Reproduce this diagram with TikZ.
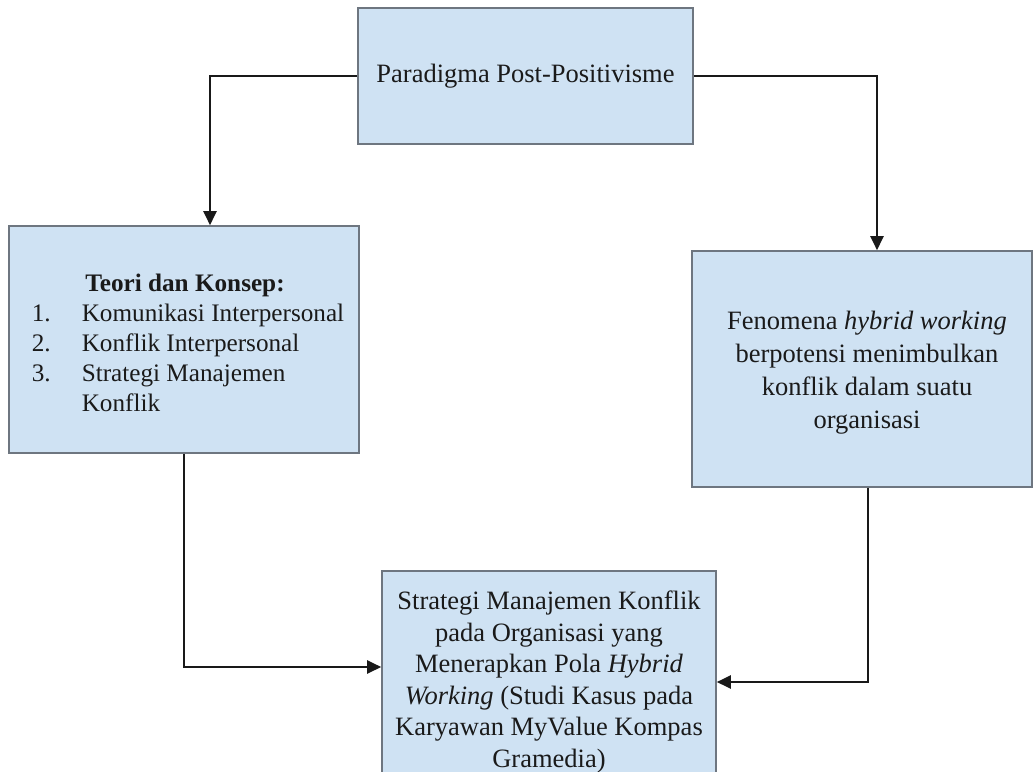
\documentclass[tikz,border=0pt]{standalone}
\usepackage{fontspec}
\setmainfont{Liberation Serif}
\usetikzlibrary{arrows.meta}
\definecolor{boxfill}{HTML}{CFE2F3}
\definecolor{boxline}{HTML}{6E7680}
\definecolor{txt}{HTML}{1A1A1A}
\begin{document}
\begin{tikzpicture}[x=1pt,y=-1pt,
  box/.style={draw=boxline, fill=boxfill, line width=1.6pt, inner sep=0pt, align=center, text=txt, font=\fontsize{26.5}{31.5}\selectfont},
  label/.style={inner sep=0pt, align=center, text=txt},
  arr/.style={draw=black!90, line width=2.3pt, -{Triangle[length=14pt,width=13pt]}}]
\useasboundingbox (0,0) rectangle (1033,771);
\clip (0,0) rectangle (1033,771);
\node[box, minimum width=335pt, minimum height=136pt] (top) at (525.5,76) {Paradigma Post-Positivisme};
\node[box, minimum width=350pt, minimum height=227pt] (left) at (184,339.5) {};
\node[label, font=\fontsize{25.2}{30}\selectfont] (lefttext) at (188,345) {%
  \begin{tabular}{@{}l@{}l@{}}
  \multicolumn{2}{c}{\hspace{-6pt}\textbf{Teori dan Konsep:}}\\
  \makebox[50pt][l]{1.} & Komunikasi Interpersonal\\
  \makebox[50pt][l]{2.} & Konflik Interpersonal\\
  \makebox[50pt][l]{3.} & Strategi Manajemen\\
   & Konflik
  \end{tabular}};
\node[box, minimum width=340pt, minimum height=236pt] (right) at (862,369) {};
\node[label, font=\fontsize{26.5}{33}\selectfont] (righttext) at (867,373) {Fenomena \textit{hybrid working}\\berpotensi menimbulkan\\konflik dalam suatu\\organisasi};
\node[box, minimum width=334pt, minimum height=222pt] (bottom) at (549,682) {Strategi Manajemen Konflik\\pada Organisasi yang\\Menerapkan Pola \textit{Hybrid}\\\textit{Working} (Studi Kasus pada\\Karyawan MyValue Kompas\\Gramedia)};
\draw[arr] (top.west) -| ([xshift=26pt]left.north);
\draw[arr] (top.east) -| ([xshift=15pt]right.north);
\draw[arr] (left.south) |- ([yshift=15pt]bottom.west);
\draw[arr] ([xshift=6pt]right.south) |- (bottom.east);
\end{tikzpicture}
\end{document}
